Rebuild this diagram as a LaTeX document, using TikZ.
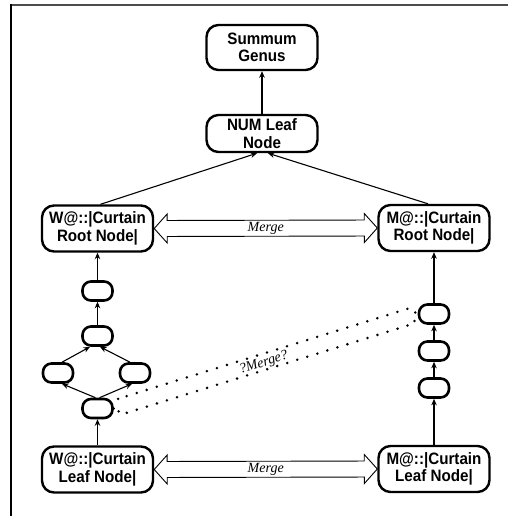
\documentclass[tikz,border=0pt]{standalone}
\usepackage{fontspec}
\setmainfont{Liberation Sans}[FakeStretch=0.92]
\newfontfamily\mergefont{Liberation Serif}
\usetikzlibrary{arrows.meta,calc}
\tikzset{
 box/.style={draw, line width=2.4pt, rounded corners=12pt, align=center,
   font=\bfseries\fontsize{16.5}{17.5}\selectfont, minimum width=111pt,
   minimum height=46pt, inner sep=1pt},
 pill/.style={draw, line width=2.6pt, rounded corners=8.5pt, minimum width=30pt,
   minimum height=19pt, inner sep=0pt},
 arr/.style={-{Stealth[length=6.5pt,width=5.5pt]}, line width=1.1pt},
 mergeline/.style={line width=0.9pt, line join=miter},
 dotline/.style={line width=2.8pt, line cap=round, dash pattern=on 0pt off 10.5pt},
 mergelabel/.style={font=\mergefont\itshape\fontsize{14}{15}\selectfont, inner sep=0pt},
}
\newcommand\hollowdbl[6]{%
 \coordinate (ha1) at ($(#2)!#4!(#3)$);
 \coordinate (ha2) at ($(#3)!#4!(#2)$);
 \draw[#1] (#2) -- ($(ha1)!#5!90:(#3)$) -- ($(ha1)!#6!90:(#3)$)
   -- ($(ha2)!#6!-90:(#2)$) -- ($(ha2)!#5!-90:(#2)$) -- (#3)
   -- ($(ha2)!#5!90:(#2)$) -- ($(ha2)!#6!90:(#2)$)
   -- ($(ha1)!#6!-90:(#3)$) -- ($(ha1)!#5!-90:(#3)$) -- cycle;}
\begin{document}
\begin{tikzpicture}[x=1pt,y=-1pt]
\useasboundingbox (0,0) rectangle (508,516);
\draw[line width=2pt, color=black!70] (10,4.6) -- (508,4.6);
\draw[line width=1.5pt] (10.8,3.6) -- (10.8,516);

\node[box, minimum height=45pt] (sg) at (262,47.5) {Summum\\Genus};
\node[box, minimum height=37pt] (num) at (262,133.5) {NUM Leaf\\Node};
\node[box] (wroot) at (97.5,228.5) {W@::|Curtain\\Root Node|};
\node[box] (mroot) at (434,228) {M@::|Curtain\\Root Node|};
\node[box] (wleaf) at (97.5,469.5) {W@::|Curtain\\Leaf Node|};
\node[box] (mleaf) at (434,469) {M@::|Curtain\\Leaf Node|};

\node[pill] (n1) at (97.5,291) {};
\node[pill] (n2) at (97.5,336) {};
\node[pill] (n3) at (58,373) {};
\node[pill] (n4) at (135,373) {};
\node[pill] (n5) at (97.5,408.5) {};
\node[pill] (ra) at (434,314) {};
\node[pill] (rb) at (434,351) {};
\node[pill] (rc) at (434,388) {};

\draw[arr] (num) -- (sg);
\draw[arr] ([xshift=3pt]wroot.north) -- ([xshift=-5pt]num.south);
\draw[arr] ([xshift=-6pt]mroot.north) -- ([xshift=6pt]num.south);

\draw[arr] (n1) -- (wroot);
\draw[arr] (n2) -- (n1);
\draw[arr] ([xshift=4pt]n3.north) -- ([xshift=-7.5pt]n2.south);
\draw[arr] ([xshift=-5pt]n4.north) -- ([xshift=2.5pt]n2.south);
\draw[arr] ([xshift=-2pt]n5.north) -- ([xshift=4pt]n3.south);
\draw[arr] ([xshift=2pt]n5.north) -- ([xshift=-3pt]n4.south);
\draw[arr] (wleaf) -- (n5);

\draw[arr] (mleaf) -- (rc);
\draw[arr] (rc) -- (rb);
\draw[arr] (rb) -- (ra);
\draw[arr] (ra) -- (mroot);

\hollowdbl{mergeline}{wroot.east}{mroot.west}{13pt}{14.5pt}{8pt}
\node[mergelabel] (m1) at ($(wroot.east)!0.5!(mroot.west)$) {Merge};
\hollowdbl{mergeline}{wleaf.east}{mleaf.west}{13pt}{14.5pt}{8pt}
\node[mergelabel] (m2) at ($(wleaf.east)!0.5!(mleaf.west)$) {Merge};

\hollowdbl{dotline}{n5.east}{ra.west}{8pt}{9pt}{8pt}
\node[mergelabel, rotate=17] (m3) at ($($(n5.east)!0.5!(ra.west)$)+(-2,2)$) {?Merge?};
\end{tikzpicture}
\end{document}
